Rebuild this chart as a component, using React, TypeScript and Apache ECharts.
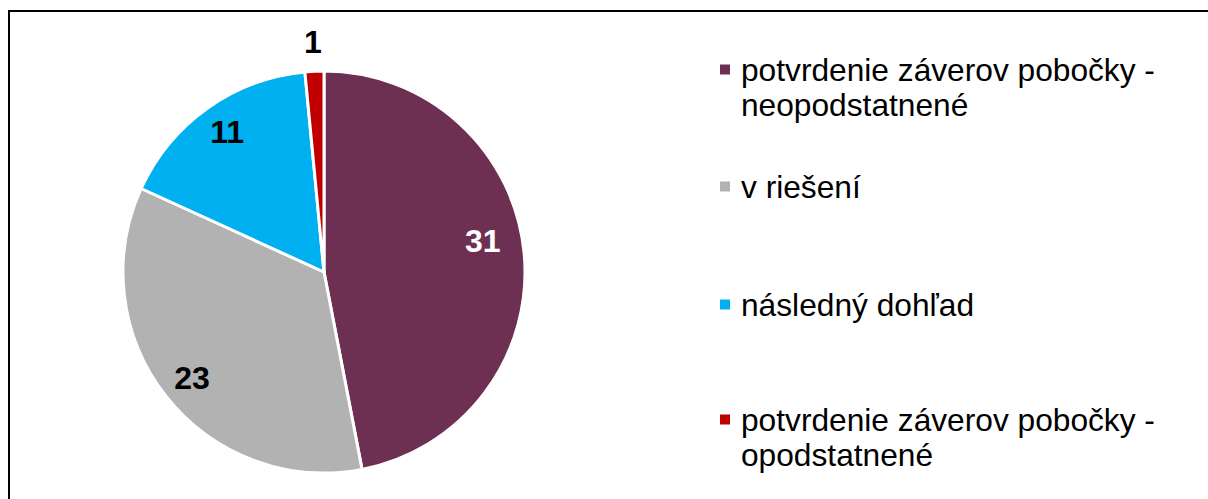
import React, { useEffect, useRef } from 'react';
import * as echarts from 'echarts';

const categories = [
  'potvrdenie záverov pobočky - neopodstatnené',
  'v riešení',
  'následný dohľad',
  'potvrdenie záverov pobočky - opodstatnené',
];
const values = [31, 23, 11, 1];
const colors = ['#6D2F52', '#B2B2B2', '#00B0F0', '#C00000'];
const labelColors = ['#FFFFFF', '#000000', '#000000', '#000000'];
const outsideLabel = [false, false, false, true];

const FONT = '"Liberation Sans", Arial, Helvetica, sans-serif';

export default function App() {
  const ref = useRef<HTMLDivElement>(null);

  useEffect(() => {
    if (!ref.current) return;
    const chart = echarts.init(ref.current, undefined, { renderer: 'svg' });

    const center = [324, 272];
    const legendTops = [17, 169, 287, 367];
    const labelNudge = [
      [-11, -15],
      [2, 1],
      [2, -1],
      [0, 2],
    ];

    const labelRing = (radius: number[], outer: boolean) => ({
      type: 'pie',
      center,
      radius,
      startAngle: 90,
      clockwise: true,
      silent: true,
      legendHoverLink: false,
      avoidLabelOverlap: false,
      emphasis: { disabled: true },
      itemStyle: { color: 'rgba(0,0,0,0)', borderWidth: 0 },
      labelLine: { show: false },
      labelLayout: (p: any) => ({ dx: labelNudge[p.dataIndex][0], dy: labelNudge[p.dataIndex][1] }),
      data: categories.map((name, i) => ({
        name,
        value: values[i],
        itemStyle: { color: 'rgba(0,0,0,0)' },
        label: {
          show: outsideLabel[i] === outer,
          position: 'inside',
          formatter: '{c}',
          color: labelColors[i],
          fontSize: 32,
          fontWeight: 'bold',
          fontFamily: FONT,
        },
      })),
    });

    chart.setOption({
      animation: false,
      backgroundColor: '#FFFFFF',
      graphic: [
        { type: 'line', shape: { x1: 8, y1: 11, x2: 1208, y2: 11 }, style: { stroke: '#000', lineWidth: 2 } },
        { type: 'line', shape: { x1: 9, y1: 10, x2: 9, y2: 499 }, style: { stroke: '#000', lineWidth: 2 } },
      ],
      legend: categories.map((name, i) => ({
        orient: 'vertical',
        left: 718,
        top: legendTops[i],
        padding: 0,
        itemWidth: 12,
        itemHeight: 12,
        icon: 'rect',
        selectedMode: false,
        data: [{ name, itemStyle: { color: colors[i] } }],
        formatter: (n: string) => (n.includes(' - ') ? '\n' + n.replace(' - ', ' -\n') : n),
        textStyle: {
          fontSize: 31.7,
          lineHeight: 35,
          fontFamily: FONT,
          color: '#000000',
          padding: [0, 0, 0, 5],
        },
      })),
      series: [
        {
          type: 'pie',
          center,
          radius: [0, 201],
          startAngle: 90,
          clockwise: true,
          silent: true,
          emphasis: { disabled: true },
          label: { show: false },
          labelLine: { show: false },
          itemStyle: { borderColor: '#FFFFFF', borderWidth: 3 },
          data: categories.map((name, i) => ({
            name,
            value: values[i],
            itemStyle: { color: colors[i] },
          })),
        },
        labelRing([134, 201], false),
        labelRing([219, 239], true),
      ],
    });

    return () => chart.dispose();
  }, []);

  return (
    <div
      ref={ref}
      style={{ position: 'absolute', left: 0, top: 0, width: 1208, height: 499 }}
    />
  );
}
